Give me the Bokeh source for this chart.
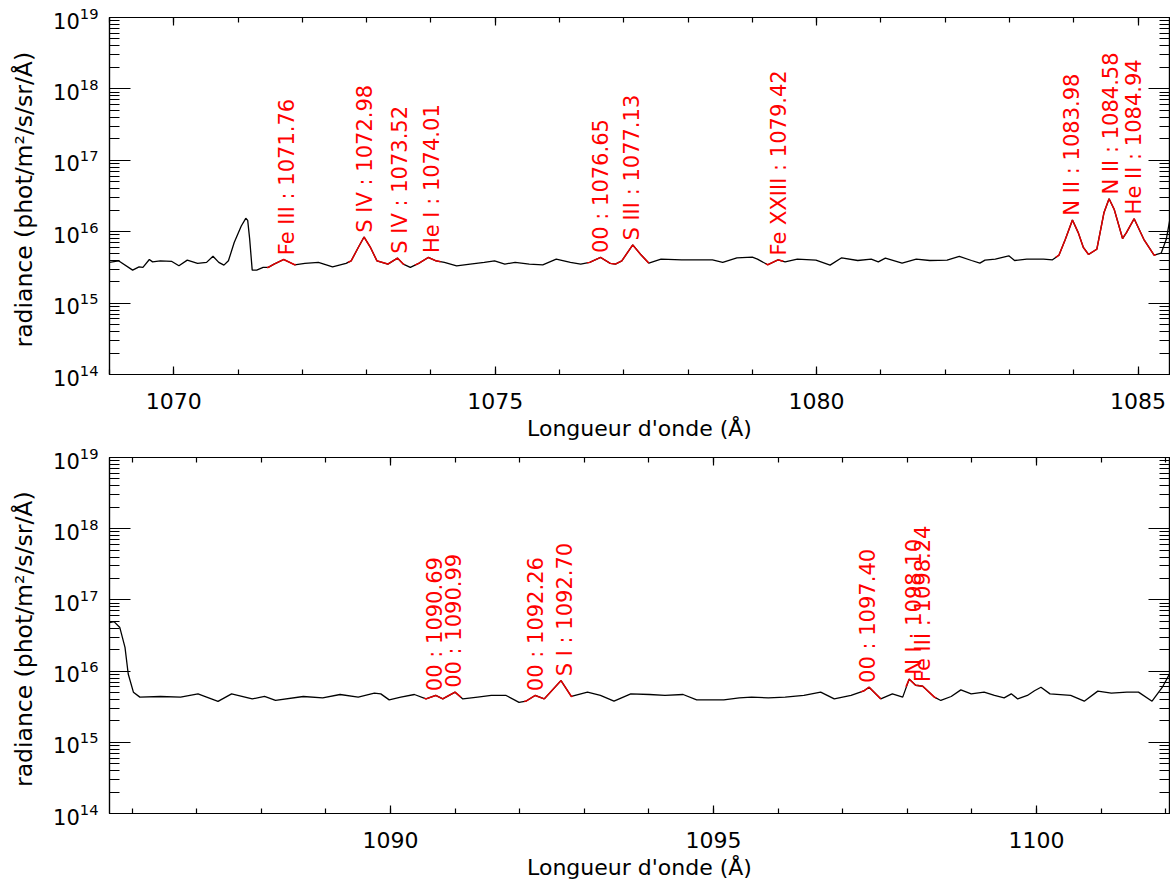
import numpy as np
from bokeh.plotting import figure
from bokeh.models import Range1d, LinearAxis, LogAxis, SingleIntervalTicker, FixedTicker, ColumnDataSource
from bokeh.layouts import column
from bokeh.embed import file_html
from bokeh.resources import INLINE
from bokeh.core.properties import value

# ---------------- data (radiance in units of 1e15 phot/m2/s/sr/A) ----------------
top_wl = [1069.00, 1069.14, 1069.36, 1069.46, 1069.52, 1069.62, 1069.67, 1069.79, 1069.97, 1070.08,
          1070.21, 1070.37, 1070.51, 1070.61, 1070.70, 1070.78, 1070.85, 1070.94, 1071.05, 1071.12,
          1071.15, 1071.18, 1071.22, 1071.29, 1071.39, 1071.47, 1071.56, 1071.71, 1071.88, 1072.04,
          1072.25, 1072.47, 1072.68, 1072.76, 1072.87, 1072.96, 1073.06, 1073.16, 1073.33, 1073.48,
          1073.57, 1073.68, 1073.81, 1073.96, 1074.08, 1074.21, 1074.40, 1074.61, 1074.83, 1074.99,
          1075.15, 1075.31, 1075.53, 1075.74, 1075.95, 1076.17, 1076.33, 1076.47, 1076.64, 1076.79,
          1076.87, 1076.97, 1077.14, 1077.26, 1077.39, 1077.58, 1077.90, 1078.17, 1078.38, 1078.54,
          1078.76, 1079.00, 1079.08, 1079.24, 1079.40, 1079.51, 1079.70, 1079.99, 1080.21, 1080.39,
          1080.64, 1080.85, 1080.96, 1081.07, 1081.33, 1081.55, 1081.76, 1082.03, 1082.22, 1082.41,
          1082.54, 1082.62, 1082.78, 1082.99, 1083.08, 1083.27, 1083.53, 1083.67, 1083.77, 1083.87,
          1083.98, 1084.07, 1084.15, 1084.23, 1084.36, 1084.47, 1084.55, 1084.63, 1084.76, 1084.82,
          1084.94, 1085.09, 1085.25, 1085.36, 1085.44, 1085.51]
top_rad = [3.72, 3.91, 2.90, 3.22, 3.16, 4.08, 3.78, 3.91, 3.83, 3.33,
           4.00, 3.60, 3.72, 4.54, 3.72, 3.40, 3.91, 7.05, 12.0, 15.4,
           14.4, 8.0, 2.90, 2.90, 3.16, 3.16, 3.52, 4.08, 3.44, 3.60,
           3.72, 3.22, 3.60, 3.91, 6.01, 8.43, 6.01, 3.91, 3.52, 4.27,
           3.52, 3.16, 3.60, 4.36, 3.91, 3.72, 3.33, 3.52, 3.72, 3.91,
           3.52, 3.72, 3.52, 3.44, 4.13, 3.72, 3.52, 3.72, 4.36, 3.60,
           3.52, 3.91, 6.53, 4.84, 3.63, 4.13, 4.04, 4.04, 4.04, 3.72,
           4.31, 4.40, 4.13, 3.44, 4.04, 3.78, 4.13, 4.00, 3.40, 4.31,
           3.95, 4.13, 3.78, 4.27, 3.63, 4.13, 3.95, 4.00, 4.50, 3.95,
           3.63, 4.00, 4.13, 4.59, 3.95, 4.13, 4.13, 4.04, 4.69, 7.83,
           14.6, 9.71, 6.01, 4.80, 5.69, 18.4, 28.9, 20.5, 8.02, 9.71,
           15.2, 7.83, 4.69, 5.00, 7.83, 17.5]

bot_wl = [1085.65, 1085.72, 1085.81, 1085.89, 1085.94, 1086.02, 1086.12, 1086.44, 1086.75, 1087.02,
          1087.33, 1087.54, 1087.86, 1088.05, 1088.22, 1088.65, 1088.95, 1089.22, 1089.50, 1089.75,
          1089.85, 1089.98, 1090.16, 1090.37, 1090.55, 1090.70, 1090.81, 1091.00, 1091.12, 1091.35,
          1091.56, 1091.79, 1091.99, 1092.10, 1092.24, 1092.38, 1092.64, 1092.80, 1093.05, 1093.25,
          1093.46, 1093.72, 1094.01, 1094.25, 1094.53, 1094.74, 1095.16, 1095.40, 1095.59, 1095.85,
          1096.11, 1096.40, 1096.66, 1096.87, 1097.13, 1097.33, 1097.41, 1097.59, 1097.77, 1097.93,
          1098.03, 1098.13, 1098.24, 1098.42, 1098.52, 1098.68, 1098.83, 1098.99, 1099.19, 1099.35,
          1099.50, 1099.61, 1099.71, 1099.86, 1099.97, 1100.07, 1100.21, 1100.53, 1100.74, 1100.95,
          1101.16, 1101.40, 1101.58, 1101.79, 1101.95, 1102.06]
bot_rad = [48.0, 49.6, 40.9, 21.5, 9.1, 5.06, 4.31, 4.40, 4.31, 4.79,
           3.75, 4.79, 4.07, 4.40, 3.87, 4.40, 4.21, 4.69, 4.31, 4.90,
           4.79, 3.94, 4.31, 4.69, 4.07, 4.55, 4.07, 5.06, 4.07, 4.31,
           4.55, 4.55, 3.63, 3.80, 4.55, 4.07, 7.36, 4.40, 5.06, 4.55,
           3.78, 4.79, 4.69, 4.55, 4.69, 3.94, 3.94, 4.21, 4.31, 4.21,
           4.31, 4.55, 5.06, 4.07, 4.55, 5.29, 5.94, 4.07, 4.79, 4.31,
           7.71, 6.33, 6.13, 4.31, 3.87, 4.40, 5.45, 4.79, 5.06, 4.55,
           4.21, 4.79, 4.07, 4.55, 5.29, 5.94, 4.79, 4.55, 3.78, 5.23,
           4.90, 5.06, 5.06, 3.78, 5.94, 9.1]

top_ions = ["Fe III", "S IV", "S IV", "He I", "00", "S III", "Fe XXIII", "N II", "N II", "He II"]
top_lines = [1071.76, 1072.98, 1073.52, 1074.01, 1076.65, 1077.13, 1079.42, 1083.98, 1084.58, 1084.94]
top_fit_lo = [1071.45, 1072.71, 1073.21, 1073.75, 1076.43, 1076.86, 1079.21, 1083.72, 1084.25, 1084.78]
top_fit_hi = [1071.90, 1073.21, 1073.59, 1074.15, 1076.86, 1077.39, 1079.48, 1084.25, 1084.78, 1085.28]

bot_ions = ["00", "00", "00", "S I", "00", "N I", "Fe III"]
bot_lines = [1090.69, 1090.99, 1092.26, 1092.70, 1097.40, 1098.10, 1098.24]
bot_fit_lo = [1090.52, 1090.86, 1092.07, 1092.38, 1097.28, 1097.98, 1098.17]
bot_fit_hi = [1090.86, 1091.09, 1092.38, 1092.82, 1097.59, 1098.17, 1098.45]

x_ranges = [(1069.0, 1085.49), (1085.65, 1102.06)]
UNIT = 1e15
FONT = "DejaVu Sans"


def make_panel(wl, rad, ions, lines, lo, hi, xr, height, bt, bb):
    wl = np.asarray(wl)
    rad = np.asarray(rad) * UNIT
    p = figure(width=1170, height=height, y_axis_type="log",
               x_range=Range1d(*xr), y_range=Range1d(1e14, 1e19),
               output_backend="svg", toolbar_location=None,
               min_border_left=109, min_border_right=1,
               min_border_top=bt, min_border_bottom=bb)
    p.xgrid.visible = False
    p.ygrid.visible = False
    p.outline_line_color = "black"
    p.outline_line_width = 1.2
    p.background_fill_color = "white"
    p.border_fill_color = "white"

    bx = p.below[0]
    ly = p.left[0]

    xt = SingleIntervalTicker(interval=5, num_minor_ticks=5)
    majors = [10.0 ** k for k in range(14, 20)]
    minors = [m * 10.0 ** k for k in range(14, 19) for m in range(2, 10)]
    yt = FixedTicker(ticks=majors, minor_ticks=minors)

    bx.ticker = xt
    ly.ticker = yt

    top_ax = LinearAxis(ticker=xt)
    right_ax = LogAxis(ticker=yt)
    p.add_layout(top_ax, "above")
    p.add_layout(right_ax, "right")

    for ax in [bx, top_ax]:
        ax.major_tick_in = 8
        ax.major_tick_out = 0
        ax.minor_tick_in = 5
        ax.minor_tick_out = 0
    for ax in [ly, right_ax]:
        ax.major_tick_in = 21
        ax.major_tick_out = 0
        ax.minor_tick_in = 10
        ax.minor_tick_out = 0
    for ax in [bx, top_ax, ly, right_ax]:
        ax.axis_line_color = "black"
        ax.axis_line_width = 1.2
        ax.major_tick_line_color = "black"
        ax.minor_tick_line_color = "black"
        ax.major_tick_line_width = 1.2
        ax.minor_tick_line_width = 1.2
        ax.major_label_text_font = FONT
        ax.axis_label_text_font = FONT
        ax.axis_label_text_font_style = "normal"
        ax.axis_label_text_color = "black"
    for ax in [top_ax, right_ax]:
        ax.major_label_text_font_size = "1px"
        ax.major_label_text_color = None
        ax.major_label_standoff = 0

    bx.major_label_text_color = "black"
    bx.major_label_text_font_size = "22px"
    bx.major_label_standoff = 18
    bx.axis_label = "Longueur d'onde (Å)"
    bx.axis_label_text_font_size = "22px"
    bx.axis_label_standoff = 4

    ly.major_label_text_color = "black"
    ly.major_label_text_font_size = "21px"
    ly.major_label_standoff = 11
    ly.axis_label = "radiance  (phot/m²/s/sr/Å)"
    ly.axis_label_text_font_size = "23.5px"
    ly.axis_label_standoff = 12

    p.line(wl, rad, line_color="black", line_width=1.3)

    # fitted line segments (red), drawn over the spectrum inside each fit window
    for a, b in zip(lo, hi):
        inside = (wl > a) & (wl < b)
        xs = np.concatenate([[a], wl[inside], [b]])
        ys = np.concatenate([[np.interp(a, wl, rad)], rad[inside], [np.interp(b, wl, rad)]])
        p.line(xs, ys, line_color="#e00000", line_width=1.5)

    # labels, starting just above the local peak
    ly_pos = []
    for c in lines:
        near = (wl >= c - 0.1) & (wl <= c + 0.1)
        peak = rad[near].max() if near.any() else np.interp(c, wl, rad)
        ly_pos.append(peak * 1.15)
    src = ColumnDataSource(dict(x=lines, y=ly_pos,
                                t=[f"{n} : {c:.2f}" for n, c in zip(ions, lines)]))
    p.text(x="x", y="y", text="t", source=src, angle=np.pi / 2,
           text_align="left", text_baseline="alphabetic",
           text_color="red", text_font=value(FONT), text_font_size="21px")
    return p


p1 = make_panel(top_wl, top_rad, top_ions, top_lines, top_fit_lo, top_fit_hi,
                x_ranges[0], 443, 17, 67)
p2 = make_panel(bot_wl, bot_rad, bot_ions, bot_lines, bot_fit_lo, bot_fit_hi,
                x_ranges[1], 439, 14, 67)

layout = column(p1, p2, spacing=0)
open("out.html", "w").write(file_html(layout, INLINE))
